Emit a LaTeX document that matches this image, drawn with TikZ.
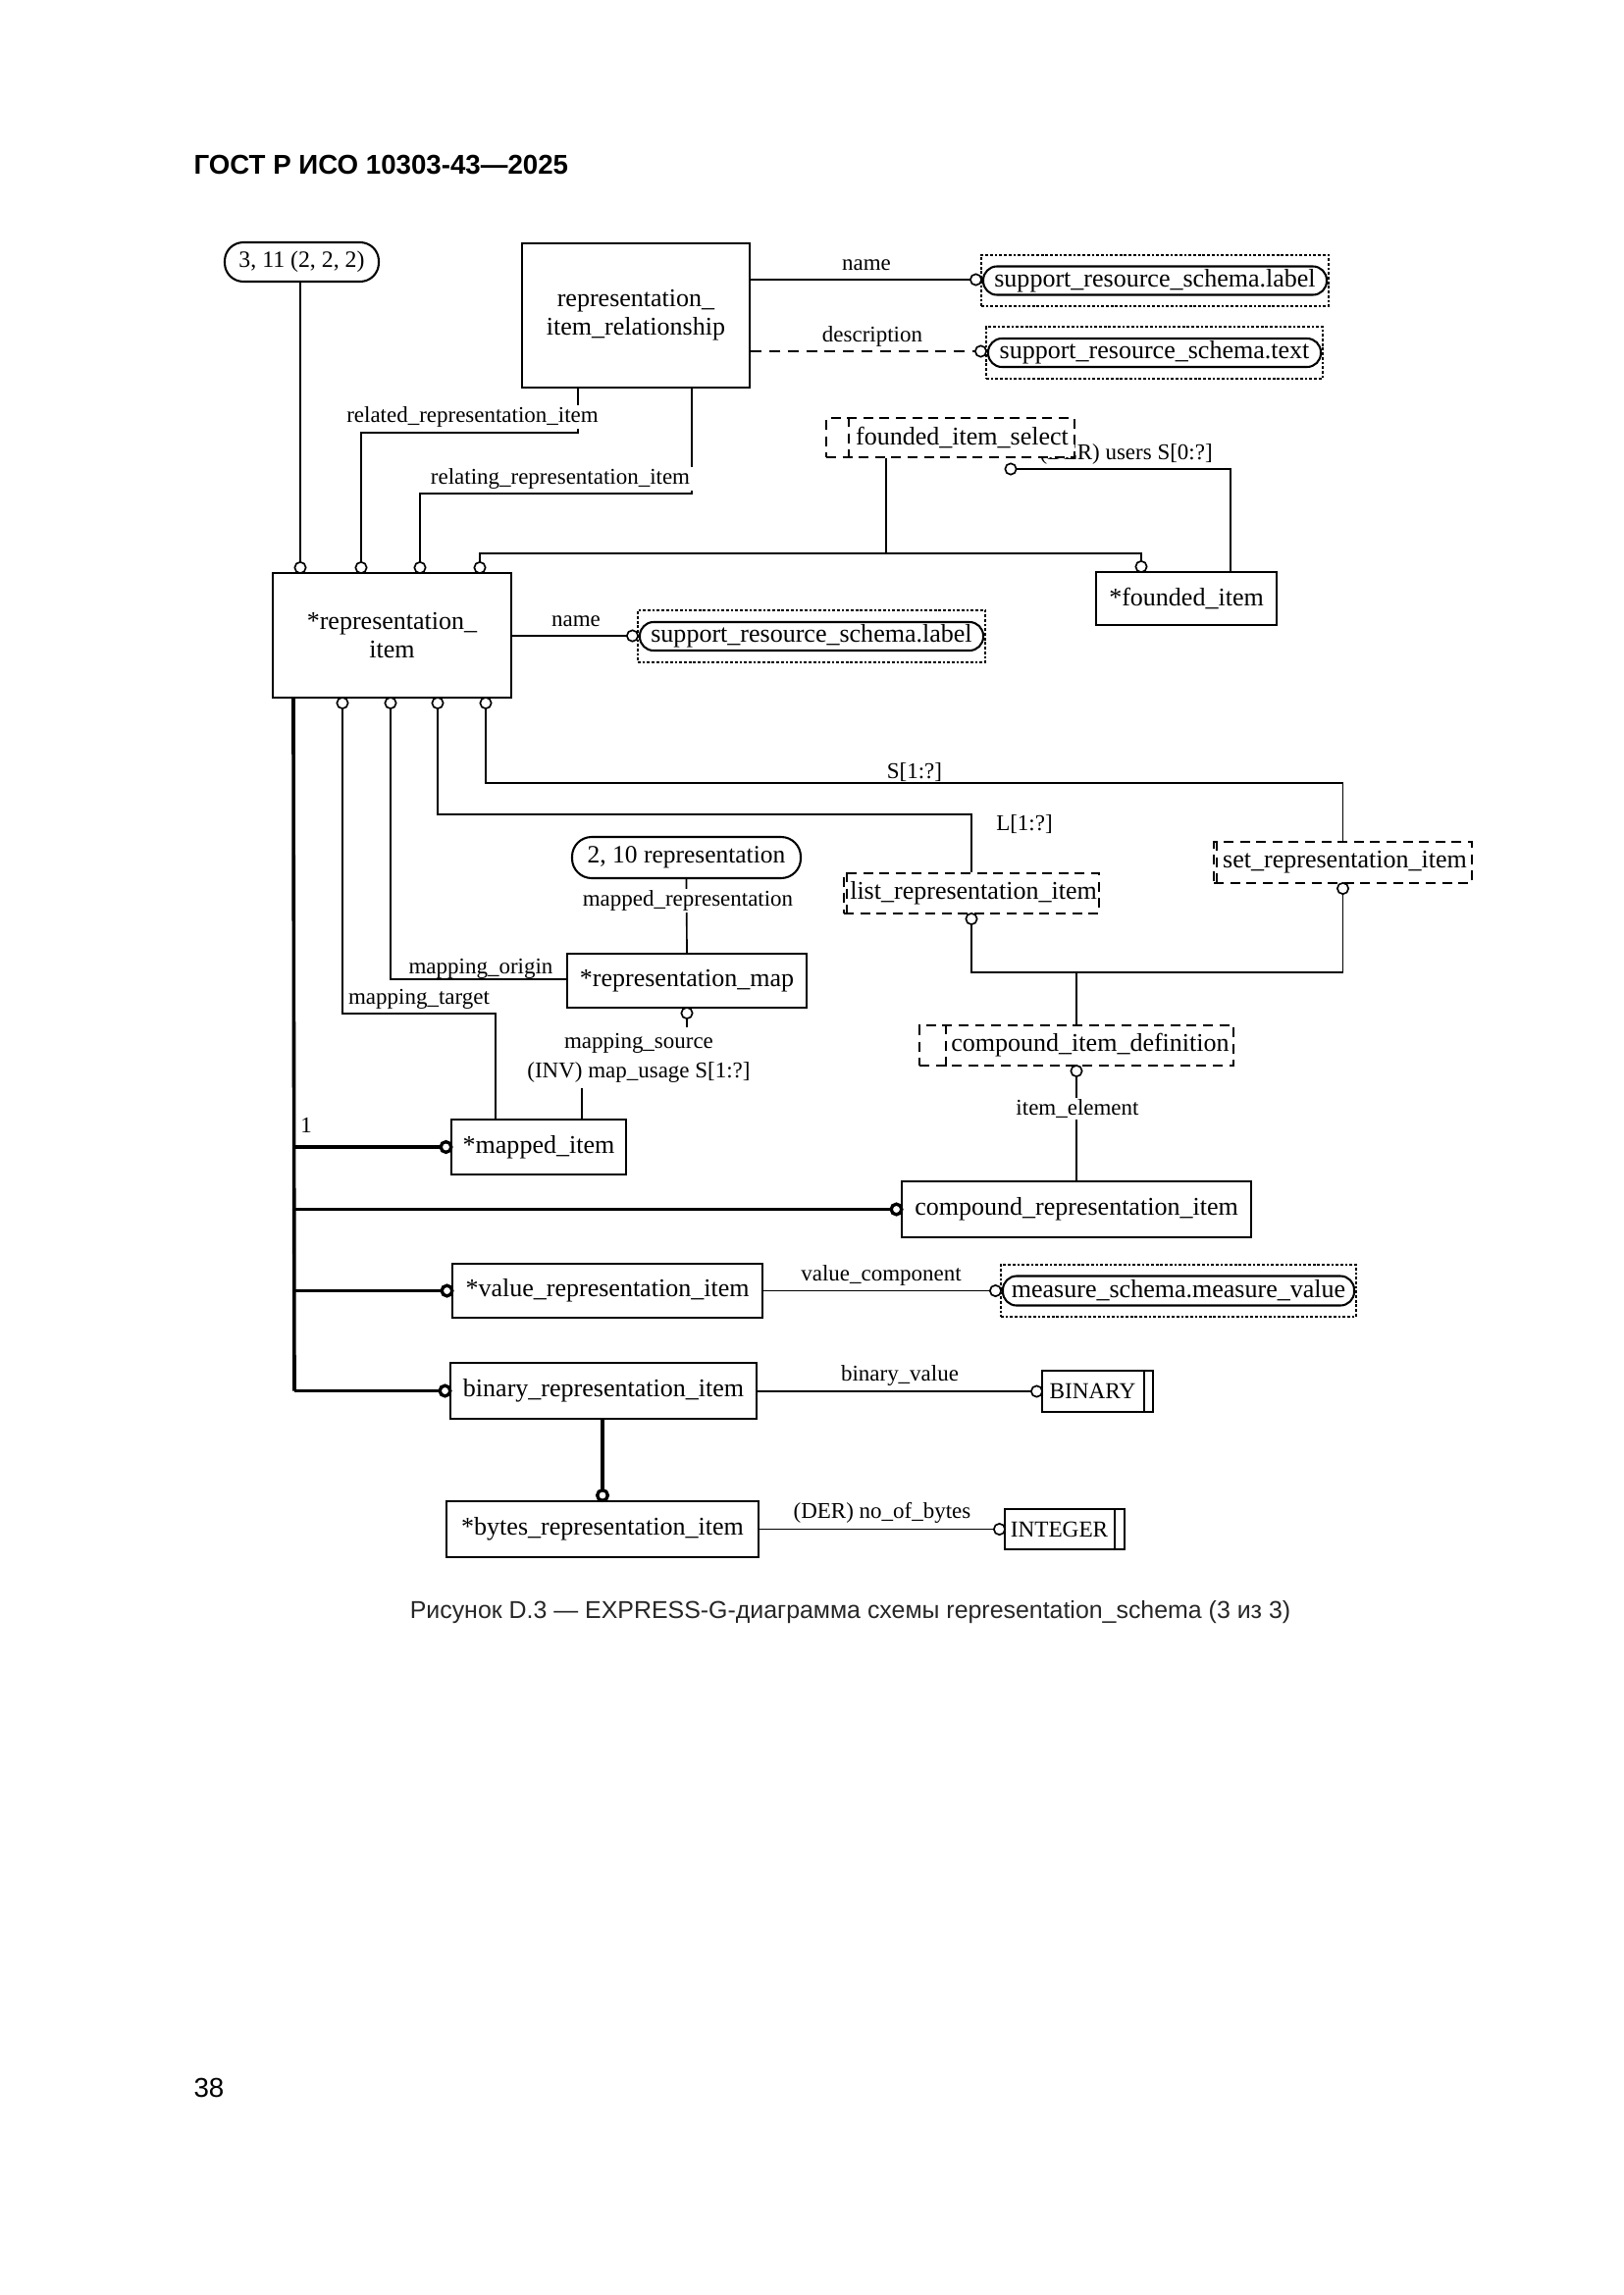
\documentclass[tikz,border=0pt]{standalone}
\usepackage{fontspec}
\setmainfont{Liberation Serif}
\newfontfamily\sansf{Liberation Sans}
\usetikzlibrary{calc}
\newlength\pxu
\setlength\pxu{0.12697mm}
\newcommand\bxf{\fontsize{9.4}{10.4}\selectfont}
\newcommand\lbf{\fontsize{8.3}{9.5}\selectfont}
\begin{document}
\begin{tikzpicture}[x=0.12697mm,y=-0.12697mm,
 ent/.style={draw,line width=0.75pt,inner sep=0pt,font=\bxf,align=center},
 ln/.style={line width=0.6pt},
 tk/.style={line width=1.3pt},
 dl/.style={line width=0.6pt,dash pattern=on 4pt off 2.8pt},
 oc/.style={draw,fill=white,line width=0.6pt},
 tc/.style={draw,fill=white,line width=1.2pt},
 lbl/.style={inner sep=0.5pt,font=\lbf},
 lblw/.style={fill=white,inner xsep=2pt,inner ysep=0.5pt,font=\lbf,align=center},
 sel/.style={draw,fill=white,line width=0.7pt,dash pattern=on 3.6pt off 2.4pt,inner sep=0pt},
 seli/.style={line width=0.7pt,dash pattern=on 3.6pt off 2.4pt},
 dot/.style={draw,line width=0.6pt,dash pattern=on 1pt off 0.7pt,inner sep=0pt},
 pill/.style={draw,line width=0.75pt,rounded corners=14\pxu,inner sep=0pt,font=\bxf},
 txt/.style={inner sep=0pt,font=\bxf},
]
\fill[white] (0,0) rectangle (1654,2339);
\useasboundingbox (0,0) rectangle (1654,2339);

% header
\node[anchor=base west,inner sep=0pt,font=\sansf\bfseries\fontsize{10}{12}\selectfont] (title) at (197,178) {ГОСТ Р ИСО 10303-43—2025};

% entities
\node[ent,rounded corners=19\pxu,minimum width=157\pxu,minimum height=40\pxu,font=\fontsize{8.6}{10}\selectfont] (ov1) at (307.5,267) {3, 11 (2, 2, 2)};
\node[ent,minimum width=232\pxu,minimum height=147\pxu] (rir) at (648,321.5) {representation\_\\item\_relationship};
\node[dot,minimum width=354\pxu,minimum height=52\pxu] (srl) at (1177,286) {};
\node[pill,minimum width=350\pxu,minimum height=29\pxu] (srlp) at (srl.center) {support\_resource\_schema.label};
\node[dot,minimum width=343\pxu,minimum height=53\pxu] (srt) at (1176.5,359.5) {};
\node[pill,minimum width=339\pxu,minimum height=29\pxu] (srtp) at (srt.center) {support\_resource\_schema.text};

\node[lbl,inner sep=0pt,anchor=west] (usr) at (1059,463) {(DER) users S[0:?]};
\node[sel,minimum width=253\pxu,minimum height=40\pxu] (fis) at (968.5,446) {};
\draw[seli] ($(fis.north west)+(24,0)$) -- ($(fis.south west)+(24,0)$);
\node[txt] (fist) at ($(fis.center)+(12,0)$) {founded\_item\_select};

\node[ent,minimum width=184\pxu,minimum height=54\pxu] (fi) at (1209,610) {*founded\_item};
\node[ent,minimum width=243\pxu,minimum height=127\pxu,font=\fontsize{9.4}{10.2}\selectfont] (ri) at (399.5,647.5) {*representation\_\\item};
\node[dot,minimum width=354\pxu,minimum height=53\pxu] (srl2) at (827,648.5) {};
\node[pill,minimum width=350\pxu,minimum height=29\pxu] (srl2p) at (srl2.center) {support\_resource\_schema.label};

\node[sel,minimum width=263\pxu,minimum height=42\pxu] (setri) at (1368.5,879) {};
\draw[seli] ($(setri.north west)+(4,0)$) -- ($(setri.south west)+(4,0)$);
\node[txt] (setrit) at ($(setri.center)+(2,0)$) {set\_representation\_item};
\node[sel,minimum width=260\pxu,minimum height=41\pxu] (listri) at (990,910.5) {};
\draw[seli] ($(listri.north west)+(4,0)$) -- ($(listri.south west)+(4,0)$);
\node[txt] (listrit) at ($(listri.center)+(2,0)$) {list\_representation\_item};

\node[ent,rounded corners=20\pxu,minimum width=233\pxu,minimum height=42\pxu,font=\fontsize{9.2}{10}\selectfont] (ov2) at (699.5,874) {2, 10 representation};
\node[ent,minimum width=244\pxu,minimum height=55\pxu] (rmap) at (700,999.5) {*representation\_map};
\node[sel,minimum width=320\pxu,minimum height=41\pxu] (cid) at (1097,1065.5) {};
\draw[seli] ($(cid.north west)+(28,0)$) -- ($(cid.south west)+(28,0)$);
\node[txt] (cidt) at ($(cid.center)+(14,0)$) {compound\_item\_definition};

\node[ent,minimum width=178\pxu,minimum height=56\pxu] (mi) at (549,1169) {*mapped\_item};
\node[ent,minimum width=356\pxu,minimum height=57\pxu] (cri) at (1097,1232.5) {compound\_representation\_item};
\node[ent,minimum width=316\pxu,minimum height=55\pxu] (vri) at (619,1315.5) {*value\_representation\_item};
\node[dot,minimum width=362\pxu,minimum height=53\pxu] (msmv) at (1201,1315.5) {};
\node[pill,minimum width=358\pxu,minimum height=30\pxu] (msmvp) at (msmv.center) {measure\_schema.measure\_value};
\node[ent,minimum width=312\pxu,minimum height=57\pxu] (bri) at (615,1417.5) {binary\_representation\_item};
\node[ent,minimum width=113\pxu,minimum height=42\pxu] (bin) at (1118.5,1418) {};
\draw[ln] ($(bin.north east)+(-10,0)$) -- ($(bin.south east)+(-10,0)$);
\node[inner sep=0pt,font=\fontsize{8.4}{10}\selectfont] (bint) at ($(bin.center)+(-5,0)$) {BINARY};
\node[ent,minimum width=318\pxu,minimum height=57\pxu] (byri) at (614,1558.5) {*bytes\_representation\_item};
\node[ent,minimum width=122\pxu,minimum height=41\pxu] (int) at (1085,1558.5) {};
\draw[ln] ($(int.north east)+(-11,0)$) -- ($(int.south east)+(-11,0)$);
\node[inner sep=0pt,font=\fontsize{8.4}{10}\selectfont] (intt) at ($(int.center)+(-5.5,0)$) {INTEGER};

% connector end points
\coordinate (rt1) at (306,578.5);
\coordinate (rt2) at (368,578.5);
\coordinate (rt3) at (428,578.5);
\coordinate (rt4) at (489,578.5);
\coordinate (rb1) at (349,716.5);
\coordinate (rb2) at (398,716.5);
\coordinate (rb3) at (446,716.5);
\coordinate (rb4) at (495,716.5);
\coordinate (k2) at (368,441);
\coordinate (k3) at (428,503);
\coordinate (k4) at (489,564);
\coordinate (k5) at (903,564);
\coordinate (ft) at (1163,577.5);
\coordinate (fu) at (1030,478);
\coordinate (n1) at (994.5,285);
\coordinate (n2) at (999.5,358);
\coordinate (n3) at (644.5,648);
\coordinate (k6) at (1368.5,798);
\coordinate (k7) at (990,830);
\coordinate (k8) at (398,998);
\coordinate (k9) at (505,1033);
\coordinate (rm) at (700,1032.5);
\coordinate (k10) at (593,1108);
\coordinate (lb) at (990,936.5);
\coordinate (sb) at (1368.5,905.5);
\coordinate (k11) at (1097,991);
\coordinate (cb) at (1097,1091.5);
\coordinate (bb) at (300,1417.5);
\coordinate (c1) at (454.5,1169);
\coordinate (c2) at (913.5,1232.5);
\coordinate (c3) at (455.5,1315.5);
\coordinate (c4) at (453.5,1417.5);
\coordinate (c5) at (1014.5,1315.5);
\coordinate (c6) at (1056.5,1418);
\coordinate (c7) at (614,1524);
\coordinate (c8) at (1018.5,1558.5);

% thin connectors
\draw[ln] (ov1.south -| rt1) -- (rt1);
\draw[ln] ($(rir.south west)+(58,0)$) |- (k2) -- (rt2);
\draw[ln] ($(rir.south west)+(174,0)$) |- (k3) -- (rt3);
\draw[ln] (rt4) -- (k4) -| (ft);
\draw[ln] (fis.south -| k5) -- (k5);
\draw[ln] ($(fi.north west)+(138,0)$) |- (fu);
\draw[ln] (rir.east |- n1) -- (n1);
\draw[dl] (rir.east |- n2) -- (n2);
\draw[ln] (ri.east |- n3) -- (n3);
\draw[ln] (rb4) |- (k6) -- (setri.north);
\draw[ln] (rb3) |- (k7) -- (listri.north);
\draw[ln] (rb2) -- (k8) -- (rmap.west |- k8);
\draw[ln] (rb1) |- (k9) -- (mi.north -| k9);
\draw[ln] (ov2.south) -- (rmap.north);
\draw[ln] (rm) |- (k10) -- (mi.north -| k10);
\draw[ln] (lb) -- (lb |- k11) -- (sb |- k11) -- (sb);
\draw[ln] (k11) -- (cid.north);
\draw[ln] (cb) -- (cri.north);
\draw[ln] (vri.east |- c5) -- (c5);
\draw[ln] (bri.east |- c6) -- (c6);
\draw[ln] (byri.east |- c8) -- (c8);

% thick connectors
\draw[tk] ($(ri.south west)+(22,0)$) -- (bb);
\draw[tk] (bb |- c1) -- (c1);
\draw[tk] (bb |- c2) -- (c2);
\draw[tk] (bb |- c3) -- (c3);
\draw[tk] (bb) -- (c4);
\draw[tk] (bri.south -| c7) -- (c7);

% labels
\node[lblw] (l1) at (481.5,425) {related\_representation\_item};
\node[lblw] (l2) at (571,488) {relating\_representation\_item};
\node[lbl] (l3) at (883,270) {name};
\node[lbl] (l4) at (889,343) {description};
\node[lbl] (l5) at (587,633) {name};
\node[lbl] (l6) at (932,787) {S[1:?]};
\node[lbl] (l7) at (1044,840) {L[1:?]};
\node[lblw] (l8) at (701,918) {mapped\_representation};
\node[lbl] (l9) at (490,987) {mapping\_origin};
\node[lbl] (l10) at (427,1018) {mapping\_target};
\node[lblw,font=\fontsize{8.3}{10.8}\selectfont,inner ysep=2pt] (l11) at (651,1078) {mapping\_source\\(INV) map\_usage S[1:?]};
\node[lblw] (l13) at (1098,1130) {item\_element};
\node[lbl] (l14) at (898,1300) {value\_component};
\node[lbl] (l15) at (917,1402) {binary\_value};
\node[lbl] (l16) at (899,1542) {(DER) no\_of\_bytes};
\node[lbl] (l17) at (312,1147) {1};

% circles
\foreach \c in {rt1,rt2,rt3,rt4,rb1,rb2,rb3,rb4,ft,fu,n1,n2,n3,rm,lb,sb,cb,c5,c6,c8}
  \draw[oc] (\c) circle[radius=0.72mm];
\foreach \c in {c1,c2,c3,c4,c7}
  \draw[tc] (\c) circle[radius=0.68mm];

% caption and page number
\node[anchor=base,inner sep=0pt,font=\sansf\fontsize{9}{11}\selectfont,text=black!85] (cap) at (866.5,1649) {Рисунок D.3 — EXPRESS-G-диаграмма схемы representation\_schema (3 из 3)};
\node[anchor=base west,inner sep=0pt,font=\sansf\fontsize{10}{12}\selectfont] (pg) at (197,2137) {38};
\end{tikzpicture}
\end{document}
